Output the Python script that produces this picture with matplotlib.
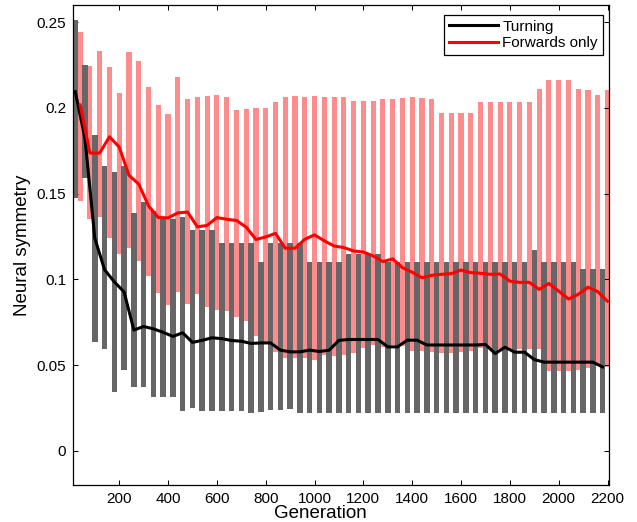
import numpy as np
import matplotlib
matplotlib.use("Agg")
import matplotlib.pyplot as plt
from matplotlib.ticker import FuncFormatter

plt.rcParams['font.family'] = ['Liberation Sans', 'DejaVu Sans']

# ---- data ----
turn_gen = np.arange(20, 2181, 40)
turn_top = [0.251, 0.225, 0.1845, 0.1662, 0.1624, 0.1662, 0.1387, 0.1449, 0.1398, 0.1351,
            0.1355, 0.1365, 0.1287, 0.1287, 0.1287, 0.1215, 0.1215, 0.1215, 0.1215, 0.1104,
            0.1215, 0.1215, 0.1215, 0.1215, 0.1104, 0.1104, 0.1104, 0.1104, 0.1151, 0.1151,
            0.1151, 0.1151, 0.1104, 0.1104, 0.1104, 0.1104, 0.1104, 0.1104, 0.1104, 0.1104,
            0.1104, 0.1104, 0.1104, 0.1104, 0.1104, 0.1104, 0.1104, 0.1172, 0.1104, 0.1104,
            0.1104, 0.1104, 0.1059, 0.1059, 0.1059]
turn_bottom = [0.1474, 0.1591, 0.0635, 0.0597, 0.0345, 0.0472, 0.0373, 0.0373, 0.0312, 0.0312,
               0.0312, 0.0231, 0.0253, 0.0231, 0.0231, 0.0231, 0.0231, 0.0231, 0.0222, 0.0225,
               0.0238, 0.0238, 0.0242] + [0.0220] * 32
turn_mean = [0.2095, 0.182, 0.124, 0.1057, 0.0986, 0.0927, 0.0705, 0.0726, 0.0712, 0.0692,
             0.0668, 0.0689, 0.0633, 0.0645, 0.066, 0.0655, 0.0644, 0.064, 0.0627, 0.063,
             0.063, 0.0588, 0.0578, 0.0578, 0.0588, 0.058, 0.0588, 0.0645, 0.065, 0.065,
             0.065, 0.065, 0.0607, 0.0607, 0.0646, 0.0646, 0.0618, 0.0618, 0.0618, 0.0618,
             0.0618, 0.0618, 0.0621, 0.0568, 0.0605, 0.0576, 0.0576, 0.0533, 0.0518, 0.0518,
             0.0518, 0.0518, 0.0518, 0.0518, 0.049]

fwd_gen = np.arange(40, 2201, 40)
fwd_top = [0.2442, 0.2247, 0.2331, 0.2237, 0.2087, 0.2328, 0.2275, 0.212, 0.2016, 0.1965,
           0.2179, 0.2054, 0.2065, 0.2069, 0.2075, 0.2063, 0.1988, 0.1994, 0.2, 0.2,
           0.2033, 0.2066, 0.207, 0.2066, 0.207, 0.2066, 0.2062, 0.2062, 0.2042, 0.2042,
           0.2042, 0.205, 0.205, 0.2056, 0.2066, 0.2056, 0.205, 0.1968, 0.1968, 0.1968,
           0.1968, 0.2037, 0.2037, 0.2037, 0.2037, 0.2037, 0.2037, 0.2111, 0.2163, 0.2163,
           0.2163, 0.2111, 0.2105, 0.2076, 0.2105]
fwd_bottom = [0.1455, 0.1355, 0.1365, 0.1242, 0.1147, 0.1184, 0.1108, 0.102, 0.092, 0.085,
              0.0929, 0.0859, 0.0914, 0.0837, 0.082, 0.0816, 0.0782, 0.0757, 0.0668, 0.063,
              0.058, 0.0543, 0.0543, 0.0543, 0.053, 0.0562, 0.0553, 0.0562, 0.0572, 0.0598,
              0.0618, 0.0604, 0.062, 0.061, 0.0582, 0.0582, 0.0575, 0.0572, 0.0572, 0.0576,
              0.0582, 0.0598, 0.0595, 0.0595, 0.0595, 0.0595, 0.0595, 0.0595, 0.0465, 0.0468,
              0.0465, 0.047, 0.0485, 0.0496, 0.0492]
fwd_mean = [0.2017, 0.1737, 0.1737, 0.1832, 0.1772, 0.1607, 0.1556, 0.1429, 0.1361, 0.1359,
            0.1388, 0.1393, 0.1307, 0.1315, 0.1361, 0.1351, 0.1344, 0.1305, 0.1233, 0.1248,
            0.1269, 0.1182, 0.1182, 0.1234, 0.126, 0.1225, 0.1195, 0.1186, 0.1166, 0.116,
            0.1137, 0.1104, 0.112, 0.1069, 0.1042, 0.101, 0.1024, 0.103, 0.1034, 0.1055,
            0.104, 0.1036, 0.103, 0.1032, 0.099, 0.0983, 0.0983, 0.0942, 0.0977, 0.0932,
            0.0886, 0.0913, 0.0955, 0.0929, 0.0873]

xticks = list(range(200, 2201, 200))
yticks = [0, 0.05, 0.1, 0.15, 0.2, 0.25]

# ---- plot ----
fig = plt.figure(figsize=(6.37, 5.22), dpi=100)
ax = fig.add_axes([0.1151, 0.0703, 0.8409, 0.9201])

tb = np.array(turn_bottom); tt = np.array(turn_top)
fb = np.array(fwd_bottom); ft = np.array(fwd_top)

ax.bar(fwd_gen, ft - fb, bottom=fb, width=21, color='#ff8c8c', linewidth=0, zorder=1)
ax.bar(turn_gen, tt - tb, bottom=tb, width=22.5, color='#666666', linewidth=0, zorder=2)
ax.plot(turn_gen, turn_mean, color='black', lw=2.2, zorder=3, label='Turning')
ax.plot(fwd_gen, fwd_mean, color='#ff0000', lw=2.2, zorder=3, label='Forwards only')

ax.set_xlim(12, 2206)
ax.set_ylim(-0.02, 0.26)
ax.set_xticks(xticks)
ax.set_yticks(yticks)
ax.yaxis.set_major_formatter(FuncFormatter(lambda v, p: ('%g' % round(v, 3))))
ax.tick_params(direction='in', top=True, right=True, length=3.6, width=0.75,
               labelsize=11, pad=5)
for s in ax.spines.values():
    s.set_linewidth(0.9)

ax.set_xlabel('Generation', fontsize=13.5)
ax.xaxis.set_label_coords(0.4605, -0.0592, transform=ax.transAxes)
ax.xaxis.label.set_verticalalignment('center')
ax.set_ylabel('Neural symmetry', fontsize=13.5, labelpad=4)

leg = ax.legend(loc='upper right', bbox_to_anchor=(0.988, 0.979), borderaxespad=0,
                fancybox=False, framealpha=1, edgecolor='black', fontsize=11,
                handlelength=3.2, handletextpad=0.3, borderpad=0.3, labelspacing=0.15)
leg.get_frame().set_linewidth(0.9)

fig.savefig('out.png', dpi=100)
